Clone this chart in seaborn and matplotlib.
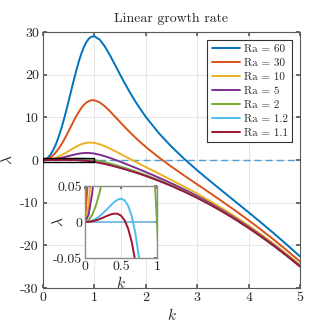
import numpy as np
import pandas as pd
import seaborn as sns
import matplotlib.pyplot as plt
from matplotlib.patches import Rectangle

# wavenumber grid
k = [0, 0.05, 0.1, 0.15, 0.2, 0.25, 0.3, 0.35, 0.4, 0.45, 0.5, 0.55, 0.6, 0.65,
     0.7, 0.75, 0.8, 0.85, 0.9, 0.95, 1.0, 1.1, 1.2, 1.3, 1.4, 1.5, 1.6, 1.7,
     1.8, 1.9, 2.0, 2.25, 2.5, 2.75, 3.0, 3.25, 3.5, 3.75, 4.0, 4.25, 4.5, 4.75, 5.0]

lam_60 = [0, 0.1475, 0.5899, 1.3268, 2.3562, 3.6729, 5.2666, 7.1188, 9.2004, 11.4689,
          13.8676, 16.3259, 18.7618, 21.0878, 23.2177, 25.0755, 26.6018, 27.7597,
          28.5361, 28.9404, 29.0, 28.2531, 26.6704, 24.606, 22.3295, 20.018, 17.7747,
          15.6513, 13.6679, 11.826, 10.1176, 6.3443, 3.1104, 0.235, -2.4146, -4.9325,
          -7.3845, -9.8173, -12.2646, -14.7509, -17.2942, -19.9085, -22.6038]
lam_30 = [0, 0.0725, 0.29, 0.6522, 1.1581, 1.8052, 2.5883, 3.4982, 4.5202, 5.6332,
          6.8088, 8.0117, 9.2009, 10.3327, 11.3639, 12.2565, 12.9809, 13.5186, 13.863,
          14.0189, 14.0, 13.5216, 12.6152, 11.458, 10.1848, 8.884, 7.6073, 6.3806,
          5.2139, 4.108, 3.0588, 0.6409, -1.5698, -3.6637, -5.7073, -7.7475, -9.8172,
          -11.9399, -14.1323, -16.4067, -18.7721, -21.2355, -23.8019]
lam_10 = [0, 0.0225, 0.09, 0.2024, 0.3594, 0.5601, 0.8028, 1.0844, 1.4001, 1.7427,
          2.1029, 2.4689, 2.827, 3.1626, 3.4613, 3.7105, 3.9003, 4.0245, 4.081, 4.0713,
          4.0, 3.7005, 3.2451, 2.6927, 2.0883, 1.4613, 0.8291, 0.2002, -0.422, -1.0373,
          -1.6471, -3.1614, -4.6899, -6.2629, -7.9024, -9.6242, -11.4391, -13.355,
          -15.3774, -17.5106, -19.7574, -22.1202, -24.6006]
lam_5 = [0, 0.01, 0.04, 0.0899, 0.1597, 0.2488, 0.3564, 0.4809, 0.62, 0.7701, 0.9265,
         1.0832, 1.2335, 1.37, 1.4856, 1.574, 1.6302, 1.651, 1.6355, 1.5844, 1.5,
         1.2453, 0.9025, 0.5013, 0.0641, -0.3943, -0.8654, -1.3449, -1.831, -2.3237,
         -2.8235, -4.1119, -5.47, -6.9127, -8.4512, -10.0933, -11.8445, -13.7087,
         -15.6887, -17.7865, -20.0037, -22.3413, -24.8003]
lam_2 = [0, 0.0025, 0.01, 0.0225, 0.0399, 0.062, 0.0886, 0.1189, 0.152, 0.1865, 0.2206,
         0.2518, 0.2774, 0.2945, 0.3003, 0.2921, 0.2681, 0.2269, 0.1682, 0.0923, 0.0,
         -0.2279, -0.503, -0.8135, -1.1504, -1.5077, -1.8822, -2.272, -2.6764, -3.0955,
         -3.5294, -4.6823, -5.938, -7.3026, -8.7805, -10.3748, -12.0878, -13.921,
         -15.8755, -17.9521, -20.1515, -22.474, -24.9201]
lam_1p2 = [0, 0.0005, 0.002, 0.0045, 0.0079, 0.0122, 0.0171, 0.0223, 0.0272, 0.0309,
           0.0324, 0.0301, 0.0224, 0.0077, -0.0158, -0.0497, -0.0952, -0.1529, -0.2231,
           -0.3056, -0.4, -0.6207, -0.8778, -1.1641, -1.4742, -1.8046, -2.1533, -2.5192,
           -2.9018, -3.3013, -3.7176, -4.8344, -6.0628, -7.4065, -8.8683, -10.4499,
           -12.1527, -13.9776, -15.9253, -17.9963, -20.1909, -22.5094, -24.9521]
lam_1p1 = [0, 0.00025, 0.001, 0.0022, 0.0039, 0.006, 0.0082, 0.0103, 0.0116, 0.0115,
           0.0088, 0.0024, -0.0094, -0.0281, -0.0554, -0.0925, -0.1406, -0.2003, -0.272,
           -0.3554, -0.45, -0.6698, -0.9246, -1.2079, -1.5147, -1.8418, -2.1872, -2.5501,
           -2.93, -3.327, -3.7412, -4.8534, -6.0784, -7.4195, -8.8793, -10.4593,
           -12.1608, -13.9847, -15.9315, -18.0018, -20.1958, -22.5138, -24.956]

ra_labels = ['60', '30', '10', '5', '2', '1.2', '1.1']
colors = ['#0072BD', '#D95319', '#EDB120', '#7E2F8E', '#77AC30', '#4DBEEE', '#A2142F']

main_xticks = [0, 1, 2, 3, 4, 5]
main_yticks = [-30, -20, -10, 0, 10, 20, 30]
inset_xticks = [0, 0.5, 1]
inset_yticks = [-0.05, 0, 0.05]
inset_xlim = (0, 1)
inset_ylim = (-0.05, 0.05)

series = [lam_60, lam_30, lam_10, lam_5, lam_2, lam_1p2, lam_1p1]
df = pd.DataFrame({'k': k * len(series),
                   'lam': sum(series, []),
                   'Ra': np.repeat(ra_labels, len(k))})

sns.set_theme(style='whitegrid')
plt.rcParams['font.family'] = ['cmr10', 'DejaVu Serif']
plt.rcParams['mathtext.fontset'] = 'cm'
plt.rcParams['axes.unicode_minus'] = False
plt.rcParams['axes.formatter.use_mathtext'] = False

edge = '#5a5a5a'
grid_c = '#e6e6e6'

fig = plt.figure(figsize=(3.32, 3.32), dpi=100)
ax = fig.add_axes([43 / 332, 44 / 332, 257 / 332, 256 / 332])

sns.lineplot(data=df, x='k', y='lam', hue='Ra', hue_order=ra_labels,
             palette=colors, linewidth=1.4, ax=ax, legend=False, sort=False,
             estimator=None)
ax.axhline(0, color='#4a9fd4', lw=1.0, ls=(0, (5, 3)), zorder=1)
ax.add_patch(Rectangle((inset_xlim[0], -0.5), inset_xlim[1] - inset_xlim[0], 1.0,
                       fill=False, ec='black', lw=1.0, zorder=5))

ax.set_xlim(0, 5)
ax.set_ylim(-30, 30)
ax.set_xticks(main_xticks)
ax.set_yticks(main_yticks)
ax.set_xticklabels([str(t) for t in main_xticks])
ax.set_yticklabels([str(t) for t in main_yticks])
ax.set_xlabel(r'$k$', fontsize=11, labelpad=2)
ax.set_ylabel(r'$\lambda$', fontsize=11)
ax.yaxis.set_label_coords(-0.108, 0.5)
ax.set_title('Linear growth rate', fontsize=10, pad=7)
ax.tick_params(direction='in', length=3, labelsize=10, color=edge, pad=3,
               top=True, right=True, bottom=True, left=True)
ax.grid(True, color=grid_c, lw=0.8)
for s in ax.spines.values():
    s.set_color(edge)
    s.set_linewidth(0.8)

handles = [plt.Line2D([], [], color=c, lw=1.4) for c in colors]
leg = ax.legend(handles, ['Ra = ' + r for r in ra_labels], loc='upper right',
                fontsize=8, frameon=True, fancybox=False, handlelength=2.6,
                handletextpad=0.3, labelspacing=0.38, borderpad=0.4,
                borderaxespad=0.7)
leg.get_frame().set_edgecolor('#333333')
leg.get_frame().set_linewidth(0.8)
leg.get_frame().set_alpha(1)

# inset zoom near the origin
axi = fig.add_axes([85 / 332, 74 / 332, 72 / 332, 72 / 332])
sns.lineplot(data=df, x='k', y='lam', hue='Ra', hue_order=ra_labels,
             palette=colors, linewidth=1.4, ax=axi, legend=False, sort=False,
             estimator=None)
axi.axhline(0, color='#6fb3e0', lw=1.2, zorder=1)
axi.set_xlim(*inset_xlim)
axi.set_ylim(*inset_ylim)
axi.set_xticks(inset_xticks)
axi.set_yticks(inset_yticks)
axi.set_xticklabels(['0', '0.5', '1'])
axi.set_yticklabels(['-0.05', '0', '0.05'])
axi.set_xlabel(r'$k$', fontsize=11)
axi.xaxis.set_label_coords(0.5, -0.24)
axi.set_ylabel(r'$\lambda$', fontsize=11)
axi.yaxis.set_label_coords(-0.26, 0.5)
axi.tick_params(direction='in', length=2, labelsize=10, color=edge, pad=2,
                top=True, right=True)
axi.grid(True, color=grid_c, lw=0.8)
axi.set_facecolor('white')
for s in axi.spines.values():
    s.set_color('#8c8c8c')
    s.set_linewidth(1.0)

fig.savefig('out.png', dpi=100)
